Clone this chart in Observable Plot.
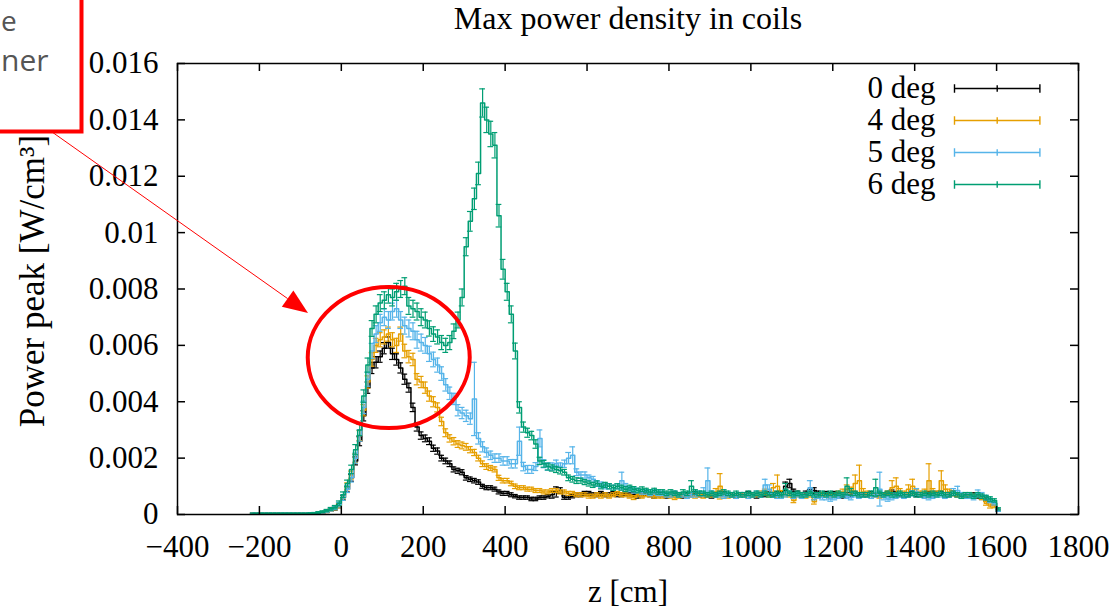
<!DOCTYPE html>
<html><head><meta charset="utf-8">
<script src="https://cdn.jsdelivr.net/npm/d3@7"></script>
<script src="https://cdn.jsdelivr.net/npm/@observablehq/plot@0.6"></script>
<style>
html,body{margin:0;padding:0;background:#fff;}
#chart{position:relative;width:1111px;height:611px;overflow:hidden;}
svg{display:block;}
</style></head><body><div id="chart"></div>
<script>
// bin centres (cm), 10 cm bins from -215 to 1605
const zBins = d3.range(-215, 1606, 10);
const seriesNames = ["0 deg", "4 deg", "5 deg", "6 deg"];
const seriesColors = ["#000000", "#E69F00", "#56B4E9", "#009E73"];
const valueUnit = 1e-4; // values below in units of 1e-4 W/cm^3

const deg0 = [
.3,.3,.3,.3,.3,.3,.3,.3,.3,.3,
.3,.3,.3,.3,.4,.4,.5,.7,1,1.5,
2,3,6,9,13,19,26,35,45,52,
54,56,59,61,57,55,52,48,45,38,
31,28,27,26,23.5,22.5,20,19,18,16,
15.5,15,13,12.5,12,11.5,10,9.5,9.5,9,
8,7.5,7.5,7,6.5,6,6,6,5.5,5.5,
6,6,6.5,7,8,8.5,6,6,6.5,7,
7,7.5,7.5,7,7,7.5,7,7,7.5,7,
7,7.5,7,7,6.5,7,7.5,7,6.5,7,
7,6.5,7,7.5,7,6.5,7,7,7.5,7,
7,7,6.5,7,7.5,7.5,7,7,6.5,7,
7,7.5,7,6.5,7,7,7.5,7,7.5,7.5,
10,11,8,7.5,7,7.5,8,8.5,7.5,7,
7.5,7,7.5,7,6.5,7,7,7.5,7,7,
7,7.5,7,7,7,7.5,8,7.5,7,7,
7,7.5,7,7,7,7.5,7,7.5,7.5,7,
7,7.5,7,7,6.5,7,7,6.5,6,5.5,
5,4,1.5];
const err0 = [
.2,.2,.2,.2,.2,.2,.2,.2,.2,.2,
.2,.2,.2,.2,.2,.2,.2,.3,.3,.4,
.5,.6,.8,1,1.2,1.4,1.6,1.8,2,2,
2,2,2,2,2,2,1.8,1.8,1.6,1.5,
1.4,1.3,1.2,1.2,1.1,1.1,1,1,1,.9,
.9,.9,.8,.8,.8,.8,.7,.7,.7,.7,
.7,.7,.7,.7,.6,.6,.6,.6,.6,.6,
.6,.6,.6,1.2,1.8,1,.6,.6,.6,.7,
.7,.7,.7,.7,.7,.7,.7,.7,.7,.7,
.7,.7,.7,.7,.7,.7,.7,.7,.7,.7,
.7,.7,.7,.7,.7,.7,.7,.7,.7,.7,
.7,.7,.7,.7,.7,.7,.7,.7,.7,.7,
.7,.7,.7,.7,.7,.7,.7,.7,.7,.7,
1.5,1.5,1,.8,.7,.8,.9,1,.8,.7,
.7,.7,.7,.7,.7,.7,.7,.7,.7,.7,
.7,.7,.7,.7,.7,.7,.7,.7,.7,.7,
.7,.7,.7,.7,.7,.7,.7,.7,.7,.7,
.7,.8,.7,.7,.7,.7,.7,.7,.7,.7,
.7,.6,.4];

const deg4 = [
.3,.3,.3,.3,.3,.3,.3,.3,.3,.3,
.3,.3,.3,.3,.4,.4,.5,.8,1.1,1.6,
2.2,3.2,6,10,14,20,28,37,47,55,
60,62,63,64,62,60,64,58,56,55,
48,47,45,42,40,38,33,29,27,26,
25,24.5,24,23,22,20,18,17,16.5,16,
13,12,12,11,10,9.5,9.5,9,9,8.5,
8.5,8,8,8.5,8.5,8,8,7.5,7.5,7,
7,7,6.5,6.5,7,6.5,7,6.5,7,7.5,
7,7,6.5,6,7,6.5,7,7,6.5,6.5,
6.5,7,6.5,6,6.5,7,6.5,7,6.5,7,
6.5,7,7,8,10,7,6.5,7,6.5,7,
7,6.5,7,7,7.5,8,7,9.5,10,7.5,
7,7,5,7,7,6.5,7,4.5,6.5,7,
7,6.5,7,7.5,8,9,8.5,11,12,8,
7.5,7,7,6.5,7,7.5,9.5,10,8,7.5,
9,10,8,7.5,8,12,8,7.5,12,9,
8,7.5,7,7,6.5,7,6.5,7,6,4,
3,3,1.5];
const err4 = [
.2,.2,.2,.2,.2,.2,.2,.2,.2,.2,
.2,.2,.2,.2,.2,.2,.3,.3,.4,.5,
.6,.8,1,1.2,1.4,1.6,1.8,2,2.2,2.4,
2.5,2.5,2.5,2.5,2.5,2.5,2.5,2.4,2.2,2.2,
2,2,2,1.8,1.8,1.6,1.5,1.4,1.3,1.3,
1.2,1.2,1.2,1.1,1.1,1,1,1,.9,.9,
.9,.8,.8,.8,.8,.7,.7,.7,.7,.7,
.7,.7,.7,.7,.7,.7,.7,.7,.7,.7,
.7,.7,.7,.7,.7,.7,.7,.7,.7,.7,
.7,.7,.7,.7,.7,.7,.7,.7,.7,.7,
.7,.7,.7,.7,.7,.7,.7,.7,.7,.7,
.7,.7,.8,1.2,4.5,.8,.7,.7,.7,.7,
.7,.7,.7,.7,.8,1,.8,1.5,4,1,
.7,.8,.8,.7,.7,.7,.8,.8,.7,.7,
.7,.7,.7,.8,1,1.5,1.2,3,5.5,1.2,
.8,.7,.7,.7,.7,.8,2.5,3,1.2,.8,
1.5,2.5,1,.8,1,6,1.2,.8,3.5,1.5,
1,.8,.7,.7,.7,.7,.7,.7,.7,.7,
.7,.6,.4];

const deg5 = [
.3,.3,.3,.3,.3,.3,.3,.3,.3,.3,
.3,.3,.3,.3,.4,.5,.6,.8,1.2,1.7,
2.3,3.5,6,9,13,20,28,38,48,58,
64,68,70,69,72,73,69,67,66,65,
62,61,60,57,55,53,50,46,43,41,
37,36,35,34,41,27,24,22,21,20,
20,19,19,18,18,26,17,16,16,17,
27,18,17,17,18,17,18,20,21,15,
14,14,13,12.5,11,10.5,10,10,9.5,10,
12,10,9,8.5,8.5,8,8,7.5,8,7.5,
7.5,7,7,7.5,7,7,6.5,7,7,7.5,
8,12,7.5,7,7,6.5,7,7,6.5,7,
7,6.5,7,7.5,7,10.5,9,7,6.5,6.5,
7,7.5,6.5,7,6.5,7,9.5,6,6.5,6,
6,5.5,6,6.5,7,6.5,6,7,6.5,7,
7,6.5,7,9,6,5.5,6,6.5,7,6.5,
7,7.5,8,7,6.5,6,6.5,7,7,6.5,
7,8,8.5,7,6.5,6.5,6,7.5,7,6,
5,4,1.5];
const err5 = [
.2,.2,.2,.2,.2,.2,.2,.2,.2,.2,
.2,.2,.2,.2,.2,.2,.3,.3,.4,.5,
.6,.8,1,1.2,1.5,1.8,2,2.2,2.5,2.7,
3,3,3,3,3,3,3,3,3,3,
3,3,2.8,2.7,2.6,2.5,2.4,2.2,2.2,2,
2,2,2,2,13,2,1.8,1.6,1.5,1.5,
1.5,1.5,1.5,1.5,1.5,5,1.5,1.4,1.4,1.4,
3,1.4,1.3,1.3,1.3,1.3,1.3,2,3,1.2,
1.1,1.1,1,1,1,1,.9,.9,.9,.9,
3,1,.9,.9,.8,.8,.8,.8,.8,.8,
.8,.8,.8,.8,.8,.8,.8,.8,.8,.8,
1.5,4.5,.8,.8,.8,.8,.8,.8,.8,.8,
.8,.8,.8,.8,.9,2,1.5,.8,.8,.8,
.8,.8,.8,.8,.8,.8,2.5,.8,.8,.8,
.8,.8,.8,.8,.8,.8,.8,.8,.8,.8,
.8,.8,.8,6,.8,.8,.8,.8,.8,.8,
.8,.9,1.2,.8,.8,.8,.8,.8,.8,.8,
.8,1.2,1.5,.8,.8,.8,.8,1.2,.8,.8,
.8,.6,.4];

const deg6 = [
.3,.3,.3,.3,.3,.3,.3,.3,.3,.3,
.3,.3,.3,.3,.4,.5,.7,1,1.4,2,
2.6,4,7,11,16,23,30,42,53,66,
71,75,76,78,77,79,80,81,74,73,
72,70,69,66,64,63,61,60,61,65,
69,77,95,104,112,121,146,140,135,131,
106,87,79,71,58,38,31,29,28,25,
19,18,17,16.5,16,15.5,15,13,12.5,12,
12,11.5,11,10.5,11,10,10.5,10,9.5,10,
9.5,9,9.5,9,8.5,9,8.5,8,8.5,8,
8,7.5,8,7.5,7,8,7.5,10,8,7.5,
7.5,7,7.5,7,7.5,8,7.5,7,7.5,7,
7,7.5,7,7.5,7,7.5,7,7,7.5,7,
9,7.5,7,7.5,7,7,7.5,7,7,7.5,
7,7.5,7,7.5,7,10,8,7.5,7,7,
7,7.5,9.5,7.5,7,7.5,7,7,7.5,7,
7,7.5,7,7,7.5,7,7.5,7,7.5,7,
7,7.5,7,6.5,7,7,6.5,7,6.5,6,
5.5,5,2];
const err6 = [
.2,.2,.2,.2,.2,.2,.2,.2,.2,.2,
.2,.2,.2,.2,.2,.2,.3,.3,.4,.5,
.6,.8,1,1.2,1.5,1.8,2,2.2,2.5,2.8,
3,3,3,3,3,3,3,3,3,3,
3,3,2.8,2.7,2.6,2.5,2.5,2.5,2.5,2.6,
2.8,3,3.2,3.5,3.8,4,5,4.5,4.5,4.5,
4,3.5,3,3,2.8,2,1.8,1.6,1.5,1.5,
1.3,1.2,1.2,1.1,1.1,1.1,1,1,1,1,
.9,.9,.9,.9,.9,.9,.9,.9,.9,.9,
.9,.9,.9,.9,.8,.8,.8,.8,.8,.8,
.8,.8,.8,.8,.8,.8,.8,2,.8,.8,
.8,.8,.8,.8,.8,.8,.8,.8,.8,.8,
.8,.8,.8,.8,.8,.8,.8,.8,.8,.8,
2,.8,.8,.8,.8,.8,.8,.8,.8,.8,
.8,.8,.8,.8,.8,3,1.2,.8,.8,.8,
.8,.8,3,.8,.8,.8,.8,.8,.8,.8,
.8,.8,.8,.8,.8,.8,.8,.8,.8,.8,
.8,.8,.8,.8,.8,.8,.8,.8,.8,.8,
.8,.6,.4];

const xTicks = [-400,-200,0,200,400,600,800,1000,1200,1400,1600,1800];
const yTicks = [0,0.002,0.004,0.006,0.008,0.01,0.012,0.014,0.016];
const titleText = "Max power density in coils";
const xLabel = "z [cm]";
const yLabel = "Power peak [W/cm³]";

// annotation (red ellipse around first peak), centre in data units
const ellipseCentre = {z: 117, v: 0.00555};

const allVals = [deg0, deg4, deg5, deg6];
const allErrs = [err0, err4, err5, err6];
const tables = allVals.map((vals, s) => zBins.map((z, i) => ({
  series: seriesNames[s], z, v: vals[i] * valueUnit, e: allErrs[s][i] * valueUnit
})));

const W = 1111, H = 611, mL = 177, mR = 33, mT = 63, mB = 97;
const plotW = W - mL - mR, plotH = H - mT - mB;
const capHalf = 7; // cm

const marks = [];
tables.forEach((t, s) => {
  const c = seriesColors[s];
  marks.push(Plot.ruleX(t, {x: "z", y1: d => d.v - d.e, y2: d => d.v + d.e, stroke: c, strokeWidth: 1.2}));
  marks.push(Plot.ruleY(t, {x1: d => d.z - capHalf, x2: d => d.z + capHalf, y: d => d.v + d.e, stroke: c, strokeWidth: 1.2}));
  marks.push(Plot.ruleY(t, {x1: d => d.z - capHalf, x2: d => d.z + capHalf, y: d => d.v - d.e, stroke: c, strokeWidth: 1.2}));
  marks.push(Plot.line(t, {x: "z", y: "v", curve: "step", stroke: c, strokeWidth: 1.5}));
});

const fmtX = d => d < 0 ? "\u2212" + (-d) : String(d);
const fmtY = d => d === 0 ? "0" : String(+d.toFixed(3));

marks.push(Plot.frame({stroke: "#000", strokeWidth: 1.5}));
marks.push(Plot.ruleX(xTicks, {stroke: "#000", strokeWidth: 1.5, insetTop: plotH - 8}));
marks.push(Plot.ruleX(xTicks, {stroke: "#000", strokeWidth: 1.5, insetBottom: plotH - 8}));
marks.push(Plot.ruleY(yTicks, {stroke: "#000", strokeWidth: 1.5, insetRight: plotW - 8}));
marks.push(Plot.ruleY(yTicks, {stroke: "#000", strokeWidth: 1.5, insetLeft: plotW - 8}));
marks.push(Plot.axisX(xTicks, {tickSize: 0, tickPadding: 20, tickFormat: fmtX, label: null}));
marks.push(Plot.axisY(yTicks, {tickSize: 0, tickPadding: 19, tickFormat: fmtY, label: null}));
marks.push(Plot.text([titleText], {frameAnchor: "top", dy: -45, lineAnchor: "middle", textAnchor: "middle", fontSize: 32}));
marks.push(Plot.text([xLabel], {frameAnchor: "bottom", dy: 78, lineAnchor: "middle", textAnchor: "middle", fontSize: 31}));
marks.push(Plot.text([yLabel], {frameAnchor: "left", dx: -145, dy: -8, rotate: -90, lineAnchor: "middle", textAnchor: "middle", fontSize: 35}));

// legend
const legendSym = {draw(ctx) {
  const h = 42.7;
  ctx.moveTo(-h, 0); ctx.lineTo(h, 0);
  ctx.moveTo(-h, -4.3); ctx.lineTo(-h, 4.3);
  ctx.moveTo(0, -3.3); ctx.lineTo(0, 3.3);
  ctx.moveTo(h, -4.3); ctx.lineTo(h, 4.3);
}};
seriesNames.forEach((name, s) => {
  const dy = 25 + 32 * s;
  marks.push(Plot.text([name], {frameAnchor: "top-right", dx: -143, dy, textAnchor: "end", lineAnchor: "middle", fontSize: 31}));
  marks.push(Plot.dot([0], {frameAnchor: "top-right", dx: -81.3, dy, symbol: legendSym, r: 5, fill: "none", stroke: seriesColors[s], strokeWidth: 1.4}));
});

const plot = Plot.plot({
  width: W, height: H,
  marginLeft: mL, marginRight: mR, marginTop: mT, marginBottom: mB,
  x: {domain: [-400, 1800]},
  y: {domain: [0, 0.016]},
  style: {fontFamily: "'Liberation Serif', 'DejaVu Serif', serif", fontSize: "31px", color: "#000", background: "#fff"},
  marks
});
document.getElementById("chart").appendChild(plot);

// red annotation overlay
const sx = plot.scale("x"), sy = plot.scale("y");
const fx = d3.scaleLinear(sx.domain, sx.range), fy = d3.scaleLinear(sy.domain, sy.range);
const svg = d3.select(plot);
const g = svg.append("g").attr("class", "annotation");
g.append("ellipse")
  .attr("cx", fx(ellipseCentre.z)).attr("cy", fy(ellipseCentre.v))
  .attr("rx", 81).attr("ry", 70.5)
  .attr("fill", "none").attr("stroke", "#f00").attr("stroke-width", 4);
// arrow
const a0 = [45, 127], a1 = [308, 313];
const dxA = a1[0] - a0[0], dyA = a1[1] - a0[1], L = Math.hypot(dxA, dyA);
const ux = dxA / L, uy = dyA / L, hl = 25, hw = 10;
const bx = a1[0] - hl * ux, by = a1[1] - hl * uy;
g.append("line").attr("x1", a0[0]).attr("y1", a0[1]).attr("x2", bx).attr("y2", by)
  .attr("stroke", "#f00").attr("stroke-width", 1);
g.append("polygon")
  .attr("points", `${a1[0]},${a1[1]} ${bx - hw * uy},${by + hw * ux} ${bx + hw * uy},${by - hw * ux}`)
  .attr("fill", "#f00");
// callout box (cut off at the top-left corner)
g.append("rect").attr("x", -20).attr("y", -20).attr("width", 101.5).attr("height", 151.5)
  .attr("fill", "#fff").attr("stroke", "#f00").attr("stroke-width", 4);
g.append("text").attr("x", 1).attr("y", 31).attr("text-anchor", "start")
  .attr("font-family", "'Open Sans', 'Noto Sans', sans-serif").attr("font-size", 28).attr("fill", "#555").text("e");
g.append("text").attr("x", 1).attr("y", 71).attr("text-anchor", "start")
  .attr("font-family", "'Open Sans', 'Noto Sans', sans-serif").attr("font-size", 30).attr("fill", "#555").text("ner");
</script>
</body></html>
